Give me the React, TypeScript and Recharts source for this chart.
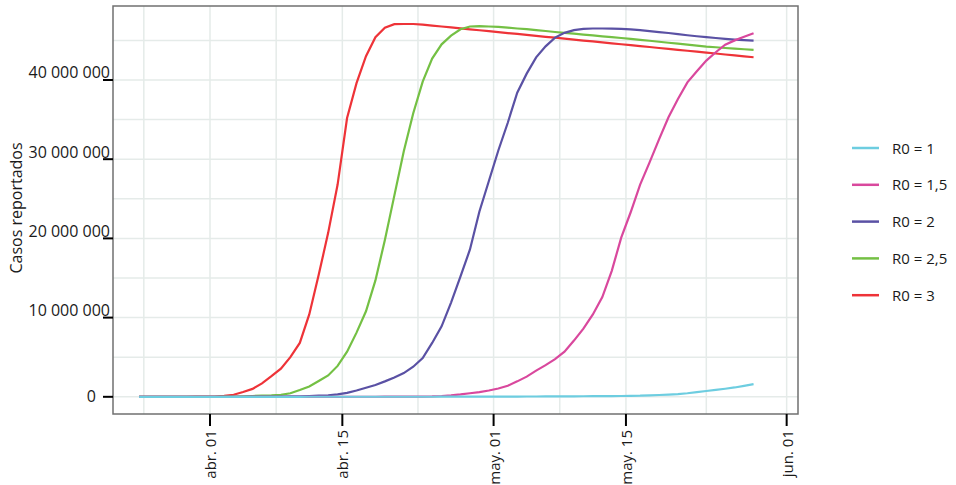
import { CartesianGrid, Legend, Line, LineChart, ReferenceArea, XAxis, YAxis } from "recharts";

// days since abr. 01 (66 daily reports, Mar 24 .. May 28)
const days = Array.from({ length: 66 }, (_, i) => i - 8);

// reported cases, millions
const r0_1 = [
  0, 0, 0, 0, 0, 0, 0, 0,
  0, 0, 0, 0, 0, 0, 0, 0, 0, 0,
  0.01, 0.01, 0.01, 0.01, 0.01, 0.01, 0.01, 0.01, 0.01, 0.01,
  0.01, 0.01, 0.01, 0.01, 0.02, 0.02, 0.02, 0.02, 0.02, 0.03,
  0.03, 0.03, 0.03, 0.04, 0.04, 0.05, 0.05, 0.06, 0.06, 0.07,
  0.08, 0.09, 0.09, 0.1, 0.12, 0.14, 0.19, 0.23, 0.28, 0.35,
  0.45, 0.58, 0.73, 0.88, 1.02, 1.18, 1.38, 1.6,
];
const r0_15 = [
  0, 0, 0, 0, 0, 0, 0, 0,
  0, 0, 0, 0, 0, 0, 0, 0, 0, 0,
  0, 0, 0, 0, 0.01, 0.01, 0.01, 0.01, 0.02, 0.02,
  0.02, 0.03, 0.03, 0.05, 0.1, 0.18, 0.3, 0.45, 0.6, 0.8,
  1.05, 1.4, 1.95, 2.55, 3.3, 4.0, 4.75, 5.7, 7.1, 8.6,
  10.4, 12.6, 15.9, 20.1, 23.3, 26.8, 29.6, 32.5, 35.3, 37.6,
  39.7, 41.1, 42.45, 43.5, 44.45, 45.0, 45.45, 45.9,
];
const r0_2 = [
  0, 0, 0, 0, 0, 0, 0, 0,
  0, 0, 0.01, 0.01, 0.02, 0.02, 0.03, 0.04, 0.05, 0.07,
  0.1, 0.14, 0.2, 0.3, 0.5, 0.8, 1.15, 1.5, 1.95, 2.45,
  3.0, 3.8, 4.9, 6.8, 8.9, 11.9, 15.2, 18.6, 23.4, 27.25,
  31.1, 34.6, 38.4, 40.8, 42.85, 44.25, 45.35, 45.95, 46.3, 46.45,
  46.5, 46.5, 46.48, 46.45, 46.38, 46.3, 46.17, 46.05, 45.93, 45.8,
  45.65, 45.52, 45.4, 45.3, 45.2, 45.1, 45.02, 44.96,
];
const r0_25 = [
  0, 0, 0, 0, 0, 0, 0.01, 0.01,
  0.01, 0.02, 0.03, 0.06, 0.1, 0.15, 0.18, 0.25, 0.45, 0.85,
  1.3, 2.0, 2.7, 3.9, 5.7, 8.1, 10.8, 14.7, 19.8, 25.4,
  31.0, 35.8, 39.8, 42.7, 44.5, 45.6, 46.4, 46.75, 46.8, 46.75,
  46.7, 46.6, 46.5, 46.42, 46.3, 46.18, 46.06, 45.95, 45.85, 45.73,
  45.62, 45.51, 45.4, 45.3, 45.19, 45.07, 44.95, 44.83, 44.7, 44.58,
  44.46, 44.34, 44.22, 44.13, 44.04, 43.96, 43.88, 43.8,
];
const r0_3 = [
  0, 0, 0, 0.01, 0.01, 0.01, 0.02, 0.03,
  0.04, 0.12, 0.26, 0.6, 1.0, 1.7, 2.6, 3.55, 5.0, 6.8,
  10.4, 15.4, 20.7, 26.8, 35.2, 39.6, 43.0, 45.4, 46.6, 47.05,
  47.07, 47.07, 46.98, 46.86, 46.75, 46.63, 46.51, 46.39, 46.28, 46.16,
  46.04, 45.92, 45.81, 45.69, 45.57, 45.45, 45.34, 45.22, 45.1, 44.98,
  44.87, 44.75, 44.63, 44.51, 44.4, 44.28, 44.16, 44.04, 43.93, 43.81,
  43.69, 43.57, 43.46, 43.34, 43.22, 43.1, 42.99, 42.87,
];

const xTicks = [0, 14, 30, 44, 61];
const xTickLabels = ["abr. 01", "abr. 15", "may. 01", "may. 15", "jun. 01"];
const yTicks = [0, 10000000, 20000000, 30000000, 40000000];

const series = [
  { key: "r3", name: "R0 = 3", color: "#ee3338", values: r0_3 },
  { key: "r25", name: "R0 = 2,5", color: "#74c044", values: r0_25 },
  { key: "r2", name: "R0 = 2", color: "#5a51a4", values: r0_2 },
  { key: "r15", name: "R0 = 1,5", color: "#d9489d", values: r0_15 },
  { key: "r1", name: "R0 = 1", color: "#6dcde0", values: r0_1 },
];

// reports are stamped at midday, hence the half day
const data = days.map((d, i) => {
  const row: Record<string, number> = { day: d + 0.5 };
  series.forEach((s) => (row[s.key] = s.values[i] * 1e6));
  return row;
});

const X_DOMAIN = [-10.26, 62.2];
const Y_DOMAIN = [-2170000, 49340000];
const FONT = "'Open Sans', sans-serif";

const fmt = (v: number) => String(v).replace(/\B(?=(\d{3})+(?!\d))/g, " ");

function YTick({ y, payload }: any) {
  const zero = payload.value === 0;
  return (
    <text x={zero ? 96 : 110} y={zero ? y + 5.5 : y - 1.5} textAnchor="end" fontSize={16} fill="#1a1a1a" fontFamily={FONT}>
      {fmt(payload.value)}
    </text>
  );
}

function XTick({ x, payload }: any) {
  const label = xTickLabels[xTicks.indexOf(payload.value)];
  return (
    <text transform={`translate(${x + 6},430) rotate(-90)`} textAnchor="end" fontSize={15} fill="#1a1a1a" fontFamily={FONT}>
      {label}
    </text>
  );
}

function YTitle() {
  return (
    <text transform="translate(22,208) rotate(-90)" textAnchor="middle" fontSize={16} fill="#1a1a1a" fontFamily={FONT}>
      Casos reportados
    </text>
  );
}

function LegendBox() {
  const items = [...series].reverse();
  return (
    <svg width={116} height={200}>
      {items.map((s, i) => (
        <g key={s.key}>
          <line x1={12} x2={39} y1={28 + i * 36.8} y2={28 + i * 36.8} stroke={s.color} strokeWidth={2.5} />
          <text x={52} y={33.5 + i * 36.8} fontSize={15} fill="#1a1a1a" fontFamily={FONT}>
            {s.name}
          </text>
        </g>
      ))}
    </svg>
  );
}

export default function App() {
  return (
    <div style={{ position: "absolute", left: 0, top: 0, width: 956, height: 485, background: "#fff" }}>
      <LineChart width={956} height={485} data={data} margin={{ top: 6, right: 158, bottom: 11, left: 13 }}>
        <CartesianGrid
          stroke="#e5ebe9"
          strokeWidth={1.5}
          horizontalValues={[0, 5e6, 10e6, 15e6, 20e6, 25e6, 30e6, 35e6, 40e6, 45e6]}
          verticalValues={[-7, 0, 7, 14, 22, 30, 37, 44, 52.5, 61]}
        />
        <XAxis
          dataKey="day"
          type="number"
          domain={X_DOMAIN}
          ticks={xTicks}
          interval={0}
          allowDataOverflow
          axisLine={false}
          tickLine={{ stroke: "#000", strokeWidth: 2 }}
          tickSize={12}
          height={60}
          tick={<XTick />}
        />
        <YAxis
          type="number"
          domain={Y_DOMAIN}
          ticks={yTicks}
          interval={0}
          allowDataOverflow
          axisLine={false}
          tickLine={{ stroke: "#000", strokeWidth: 2 }}
          tickSize={10}
          width={100}
          tick={<YTick />}
          label={<YTitle />}
        />
        {series.map((s) => (
          <Line
            key={s.key}
            dataKey={s.key}
            name={s.name}
            type="linear"
            stroke={s.color}
            strokeWidth={2.2}
            dot={false}
            activeDot={false}
            isAnimationActive={false}
          />
        ))}
        <ReferenceArea
          x1={X_DOMAIN[0]}
          x2={X_DOMAIN[1]}
          y1={Y_DOMAIN[0]}
          y2={Y_DOMAIN[1]}
          fill="none"
          stroke="#707070"
          strokeWidth={1.5}
          ifOverflow="visible"
        />
        <Legend
          layout="vertical"
          align="center"
          verticalAlign="middle"
          wrapperStyle={{ left: 840, top: 120, width: 116, height: 200 }}
          content={<LegendBox />}
        />
      </LineChart>
    </div>
  );
}
